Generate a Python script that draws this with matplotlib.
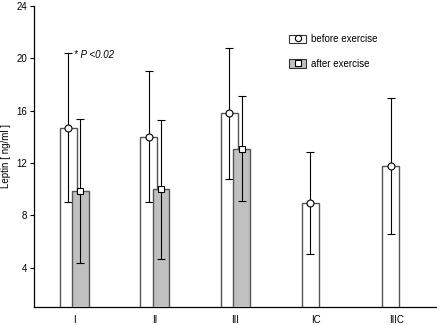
import matplotlib
matplotlib.use("Agg")
import matplotlib.pyplot as plt
import numpy as np
from matplotlib.patches import Patch
from matplotlib.lines import Line2D
from matplotlib.legend_handler import HandlerTuple

plt.rcParams['font.family'] = ['Liberation Sans', 'DejaVu Sans']

groups = ['I', 'II', 'III', 'IC', 'IIIC']
before_mean = [14.7, 14.0, 15.8, 8.95, 11.75]
before_sd = [5.7, 5.0, 5.0, 3.9, 5.2]
after_mean = [9.9, 10.0, 13.1]
after_sd = [5.5, 5.3, 4.0]

x = np.arange(len(groups))
xa = np.arange(len(after_mean))
off = 0.075
w = 0.21

fig = plt.figure(figsize=(4.37, 3.25), dpi=100)
ax = fig.add_axes([0.078, 0.055, 0.922, 0.927])

ax.bar(x - off, before_mean, w, bottom=0, color='white', edgecolor='#555555', linewidth=1.0, zorder=2)
ax.errorbar(x - off, before_mean, yerr=before_sd, fmt='o', ms=5, mfc='white', mec='black', mew=0.8,
            ecolor='black', elinewidth=0.8, capsize=3, capthick=0.8, zorder=3)
ax.bar(xa + off, after_mean, w, bottom=0, color='#c0c0c0', edgecolor='#555555', linewidth=1.0, zorder=4)
ax.errorbar(xa + off, after_mean, yerr=after_sd, fmt='s', ms=5, mfc='white', mec='black', mew=0.8,
            ecolor='black', elinewidth=0.8, capsize=3, capthick=0.8, zorder=5)

ax.set_xlim(-0.5, 4.5)
ax.set_ylim(1, 24)
ax.set_yticks([4, 8, 12, 16, 20, 24])
ax.set_xticks(x)
ax.set_xticklabels(groups)
ax.tick_params(axis='x', length=0, pad=6, labelsize=7)
ax.tick_params(axis='y', length=3, width=0.8, pad=2, labelsize=7)
ax.spines['top'].set_visible(False)
ax.spines['right'].set_visible(False)
for s in ['left', 'bottom']:
    ax.spines[s].set_linewidth(0.9)
ax.set_ylabel('Leptin [ ng/ml ]', fontsize=7, labelpad=4)

ax.text(-0.01, 20.25, '* P <0.02', fontsize=7, style='italic', va='center')

h1 = (Patch(facecolor='white', edgecolor='#333333', linewidth=0.8),
      Line2D([], [], marker='o', ls='', ms=4.5, mfc='white', mec='black', mew=0.8))
h2 = (Patch(facecolor='#c0c0c0', edgecolor='#333333', linewidth=0.8),
      Line2D([], [], marker='s', ls='', ms=4.5, mfc='white', mec='black', mew=0.8))
ax.legend([h1, h2], ['before exercise', 'after exercise'],
          handler_map={tuple: HandlerTuple(ndivide=1)},
          loc='upper left', bbox_to_anchor=(0.612, 0.935), frameon=False, fontsize=7,
          handlelength=1.7, handleheight=1.0, labelspacing=1.5, handletextpad=0.5)

fig.savefig('out.png', dpi=100)
